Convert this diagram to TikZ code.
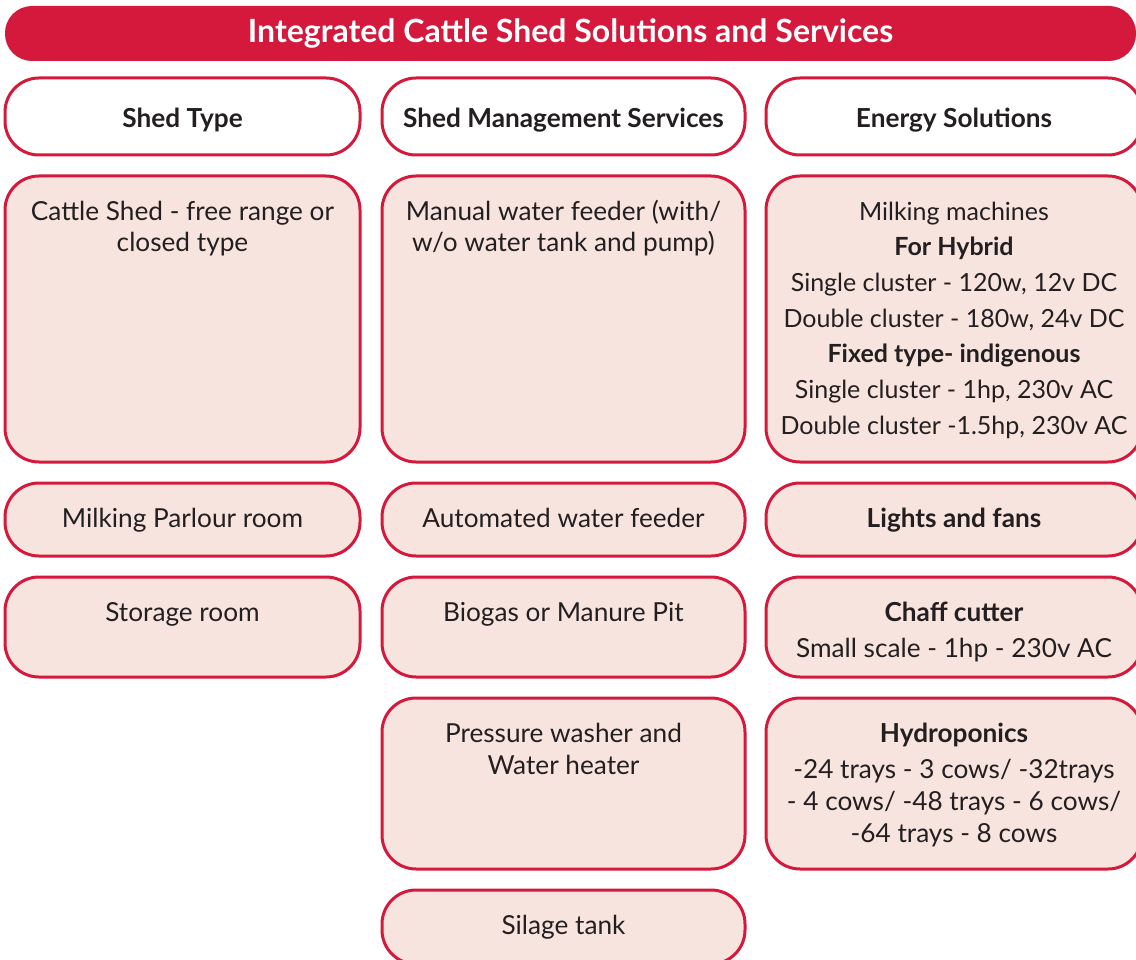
\documentclass[tikz,border=0pt]{standalone}
\usepackage{fontspec}
\setmainfont{Lato}
\usetikzlibrary{positioning}
\definecolor{shedred}{HTML}{D4193C}
\definecolor{shedpink}{HTML}{F8E4DF}
\definecolor{shedtext}{HTML}{231F20}
\begin{document}
\begin{tikzpicture}
  [x=1pt,y=1pt,node distance=21pt,
  every node/.style={font=\fontsize{26.2}{32}\selectfont,text=shedtext},
  cell/.style={draw=shedred,line width=3pt,fill=shedpink,rounded corners=34pt,
    align=center,inner sep=0pt,outer sep=0pt,text height=44pt},
  head/.style={cell,fill=white,text height=50pt,text depth=27pt,
    font=\fontsize{26.2}{32}\selectfont\bfseries},
  title bar/.style={fill=shedred,rounded corners=27pt,minimum width=1131pt,
    minimum height=55pt,inner sep=0pt,text=white,
    font=\fontsize{32}{38}\selectfont\bfseries},
  shed col/.style={minimum width=355pt},
  mgmt col/.style={minimum width=363pt},
  energy col/.style={minimum width=376pt},
  fix/.style 2 args={text height=#1,text depth=#2}]
  \useasboundingbox (0,0) rectangle (1136,-960);
  \node[title bar] (title) at (570.5,-33.5) {Integrated Cattle Shed Solutions and Services};
  % column heads
  \node[head,shed col,anchor=north] (shedtype) at (182.5,-78) {Shed Type};
  \node[head,mgmt col,anchor=north] (mgmt) at (563.5,-78) {Shed Management Services};
  \node[head,energy col,anchor=north] (energy) at (954,-78) {Energy Solutions};
  % shed type
  \node[cell,shed col,fix={76pt}{210pt}] (cattle) [below=of shedtype] {Cattle Shed - free range or\\closed type};
  \node[cell,shed col,fix={44pt}{29pt}] (parlour) [below=of cattle] {Milking Parlour room};
  \node[cell,shed col,fix={44pt}{56pt}] (storage) [below=of parlour] {Storage room};
  % shed management services
  \node[cell,mgmt col,fix={76pt}{210pt}] (manual) [below=of mgmt] {Manual water feeder (with/\\w/o water tank and pump)};
  \node[cell,mgmt col,fix={44pt}{29pt}] (auto) [below=of manual] {Automated water feeder};
  \node[cell,mgmt col,fix={44pt}{56pt}] (biogas) [below=of auto] {Biogas or Manure Pit};
  \node[cell,mgmt col,fix={76pt}{95pt}] (washer) [below=of biogas] {Pressure washer and\\Water heater};
  \node[cell,mgmt col,fix={44pt}{30pt}] (silage) [below=of washer] {Silage tank};
  % energy solutions
  \node[cell,energy col,fix={258.2pt}{27.8pt},font=\fontsize{25}{35.7}\selectfont] (milking) [below=of energy]
    {Milking machines\\\textbf{For Hybrid}\\Single cluster - 120w, 12v DC\\Double cluster - 180w, 24v DC\\
     \textbf{Fixed type- indigenous}\\Single cluster - 1hp, 230v AC\\Double cluster -1.5hp, 230v AC};
  \node[cell,energy col,fix={44pt}{29pt}] (lights) [below=of milking] {\textbf{Lights and fans}};
  \node[cell,energy col,fix={80pt}{20pt}] (chaff) [below=of lights] {\textbf{Chaff cutter}\\[4pt]Small scale - 1hp - 230v AC};
  \node[cell,energy col,fix={144pt}{27pt}] (hydro) [below=of chaff]
    {\textbf{Hydroponics}\\[4pt]-24 trays - 3 cows/ -32trays\\- 4 cows/ -48 trays - 6 cows/\\-64 trays - 8 cows};
\end{tikzpicture}
\end{document}
